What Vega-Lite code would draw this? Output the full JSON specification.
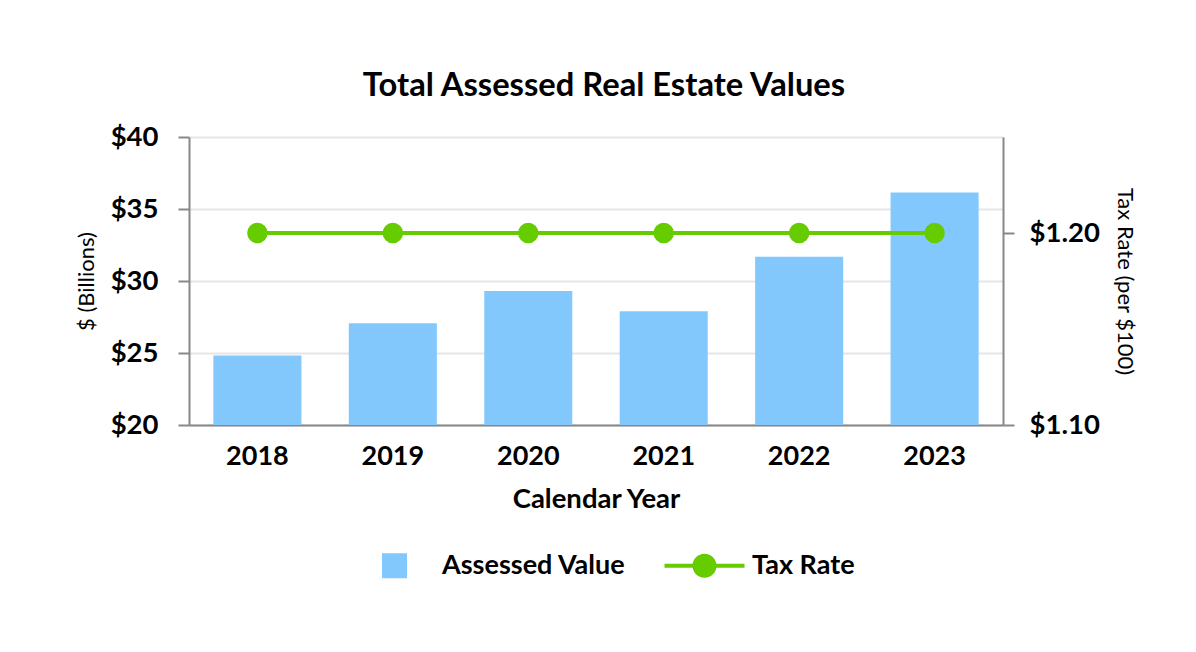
{
  "$schema": "https://vega.github.io/schema/vega-lite/v6.json",
  "width": 814,
  "height": 288,
  "autosize": {"type": "none"},
  "padding": {"left": 189, "top": 137, "right": 193, "bottom": 227},
  "background": "white",
  "title": {
    "text": "Total Assessed Real Estate Values",
    "font": "Lato",
    "fontWeight": "bold",
    "fontSize": 32.7,
    "color": "#000000",
    "anchor": "middle",
    "dx": 8,
    "offset": 20
  },
  "data": {
    "values": [
      {"year": "2018", "value": 24.83, "rate": 1.20},
      {"year": "2019", "value": 27.06, "rate": 1.20},
      {"year": "2020", "value": 29.30, "rate": 1.20},
      {"year": "2021", "value": 27.90, "rate": 1.20},
      {"year": "2022", "value": 31.68, "rate": 1.20},
      {"year": "2023", "value": 36.15, "rate": 1.20}
    ]
  },
  "encoding": {
    "x": {
      "field": "year",
      "type": "ordinal",
      "title": "Calendar Year",
      "scale": {"paddingInner": 0.35, "paddingOuter": 0.18},
      "axis": {
        "labelAngle": 0,
        "labelFont": "Lato",
        "labelFontWeight": "bold",
        "labelFontSize": 27,
        "labelColor": "#000000",
        "labelPadding": 18,
        "ticks": false,
        "domainColor": "#888888",
        "domainWidth": 2,
        "titleFont": "Lato",
        "titleFontWeight": "bold",
        "titleFontSize": 27.5,
        "titleColor": "#000000",
        "titlePadding": 16
      }
    }
  },
  "layer": [
    {
      "mark": {"type": "bar", "color": "#82c8fd"},
      "encoding": {
        "y": {
          "field": "value",
          "type": "quantitative",
          "title": "$ (Billions)",
          "scale": {"domain": [20, 40], "nice": false, "zero": false},
          "axis": {
            "values": [20, 25, 30, 35, 40],
            "format": "$.0f",
            "labelFont": "Lato",
            "labelFontWeight": "bold",
            "labelFontSize": 27.5,
            "labelColor": "#000000",
            "labelPadding": 20,
            "tickSize": 11,
            "tickColor": "#888888",
            "tickWidth": 2,
            "domainColor": "#888888",
            "domainWidth": 2,
            "grid": true,
            "gridColor": "#e6e6e6",
            "gridWidth": 2,
            "titleFont": "Lato",
            "titleFontWeight": "normal",
            "titleFontSize": 22,
            "titleColor": "#000000",
            "titlePadding": 12
          }
        },
        "y2": {"datum": 20},
        "color": {
          "datum": "Assessed Value",
          "scale": {"domain": ["Assessed Value", "Tax Rate"], "range": ["#82c8fd", "#66cc00"]},
          "legend": {
            "orient": "none",
            "legendX": 192,
            "legendY": 415,
            "direction": "horizontal",
            "title": null,
            "labelFont": "Lato",
            "labelFontWeight": "bold",
            "labelFontSize": 27,
            "labelColor": "#000000",
            "labelLimit": 400,
            "labelOffset": 34,
            "symbolSize": 625,
            "columnPadding": 38,
            "encode": {
              "symbols": {
                "update": {
                  "shape": {"signal": "datum.value === 'Tax Rate' ? 'M-3.2,-0.16H3.2V0.16H-3.2Z M0.96,0A0.96,0.96 0 1,1 -0.96,0A0.96,0.96 0 1,1 0.96,0Z' : 'square'"},
                  "fill": {"signal": "datum.value === 'Tax Rate' ? '#66cc00' : '#82c8fd'"},
                  "stroke": {"value": "transparent"},
                  "strokeWidth": {"value": 0},
                  "opacity": {"value": 1},
                  "fillOpacity": {"value": 1}
                }
              }
            }
          }
        }
      }
    },
    {
      "mark": {
        "type": "line",
        "strokeWidth": 4,
        "point": {"filled": true, "size": 420, "opacity": 1}
      },
      "encoding": {
        "y": {
          "field": "rate",
          "type": "quantitative",
          "title": "Tax Rate (per $100)",
          "scale": {"domain": [1.10, 1.25], "nice": false, "zero": false},
          "axis": {
            "orient": "right",
            "values": [1.10, 1.20],
            "format": "$.2f",
            "grid": false,
            "labelFont": "Lato",
            "labelFontWeight": "bold",
            "labelFontSize": 27.5,
            "labelColor": "#000000",
            "labelPadding": 15,
            "tickSize": 11,
            "tickColor": "#888888",
            "tickWidth": 2,
            "domainColor": "#888888",
            "domainWidth": 2,
            "titleFont": "Lato",
            "titleFontWeight": "normal",
            "titleFontSize": 22,
            "titleColor": "#000000",
            "titlePadding": 13
          }
        },
        "color": {"datum": "Tax Rate"}
      }
    }
  ],
  "resolve": {"scale": {"y": "independent"}},
  "config": {"view": {"stroke": null}}
}
